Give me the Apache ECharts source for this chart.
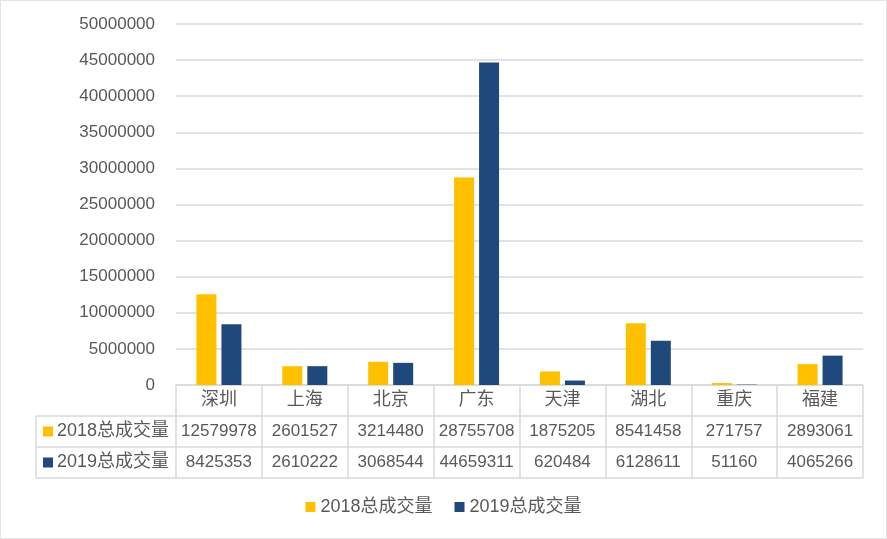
<!DOCTYPE html>
<html><head><meta charset="utf-8">
<script src="https://cdn.jsdelivr.net/npm/echarts@6/dist/echarts.min.js"></script>
<style>html,body{margin:0;padding:0;background:#fff}#c{width:887px;height:539px}</style>
</head><body><div id="c"></div>
<script>
const categories = ['深圳','上海','北京','广东','天津','湖北','重庆','福建'];
const seriesNames = ['2018总成交量','2019总成交量'];
const s2018 = [12579978,2601527,3214480,28755708,1875205,8541458,271757,2893061];
const s2019 = [8425353,2610222,3068544,44659311,620484,6128611,51160,4065266];
const yMin = 0, yMax = 50000000, yInterval = 5000000;
const colors = ['#FFC000','#1F497D'];

const FONT = 'Liberation Sans, "Noto Sans CJK SC", sans-serif';
const TXT = '#595959';
const LINE = '#d9d9d9';
const chart = echarts.init(document.getElementById('c'));
const tableLeft = 36, gridLeft = 176, gridRight = 863;
const rowY = [416, 447, 478];
const graphics = [
  {type:'rect', shape:{x:0.5,y:0.5,width:886,height:538}, style:{fill:'none', stroke:'#c8c8c8', lineWidth:1, lineDash:[1,1]}, silent:true},
  {type:'line', shape:{x1:tableLeft,y1:rowY[0],x2:tableLeft,y2:rowY[2]}, style:{stroke:LINE,lineWidth:1.5}},
];
rowY.forEach(y=>graphics.push({type:'line', shape:{x1:tableLeft,y1:y,x2:gridRight,y2:y}, style:{stroke:LINE,lineWidth:1.5}}));
seriesNames.forEach((n,i)=>{
  const cy = (rowY[i]+rowY[i+1])/2;
  graphics.push({type:'rect', shape:{x:43,y:cy-5,width:10,height:10}, style:{fill:colors[i]}});
  graphics.push({type:'text', x:57, y:cy, style:{text:n, fill:TXT, font:'18px '+FONT, textVerticalAlign:'middle', verticalAlign:'middle'}});
});

chart.setOption({
  animation:false,
  textStyle:{fontFamily:FONT},
  grid:{left:gridLeft, right:887-gridRight, top:24, bottom:539-385, containLabel:false},
  legend:{bottom:18, left:'center', icon:'rect', itemWidth:10, itemHeight:10, itemGap:22,
    textStyle:{fontSize:18, color:TXT, fontFamily:FONT}, data:seriesNames},
  xAxis:{type:'category', data:categories,
    axisLine:{show:true, lineStyle:{color:LINE,width:1.5}},
    axisTick:{show:true, length:93, alignWithLabel:false, lineStyle:{color:LINE,width:1.5}, interval:0},
    axisLabel:{interval:0, margin:0, color:TXT,
      formatter:(v,i)=>`{c|${v}}\n{v|${s2018[i]}}\n{v|${s2019[i]}}`,
      rich:{c:{fontSize:18, lineHeight:31, color:TXT, fontFamily:FONT}, v:{fontSize:17, lineHeight:31, color:TXT, fontFamily:FONT}}}
  },
  yAxis:{type:'value', min:yMin, max:yMax, interval:yInterval,
    axisLine:{show:false}, axisTick:{show:false},
    axisLabel:{color:TXT, fontSize:17, margin:21, fontFamily:FONT, formatter:v=>String(v)},
    splitLine:{lineStyle:{color:LINE,width:1.5}}},
  series:[
    {name:seriesNames[0], type:'bar', data:s2018, barWidth:20, barGap:'25%', itemStyle:{color:colors[0]}},
    {name:seriesNames[1], type:'bar', data:s2019, barWidth:20, barGap:'25%', itemStyle:{color:colors[1]}}
  ],
  graphic:graphics
});
</script></body></html>
